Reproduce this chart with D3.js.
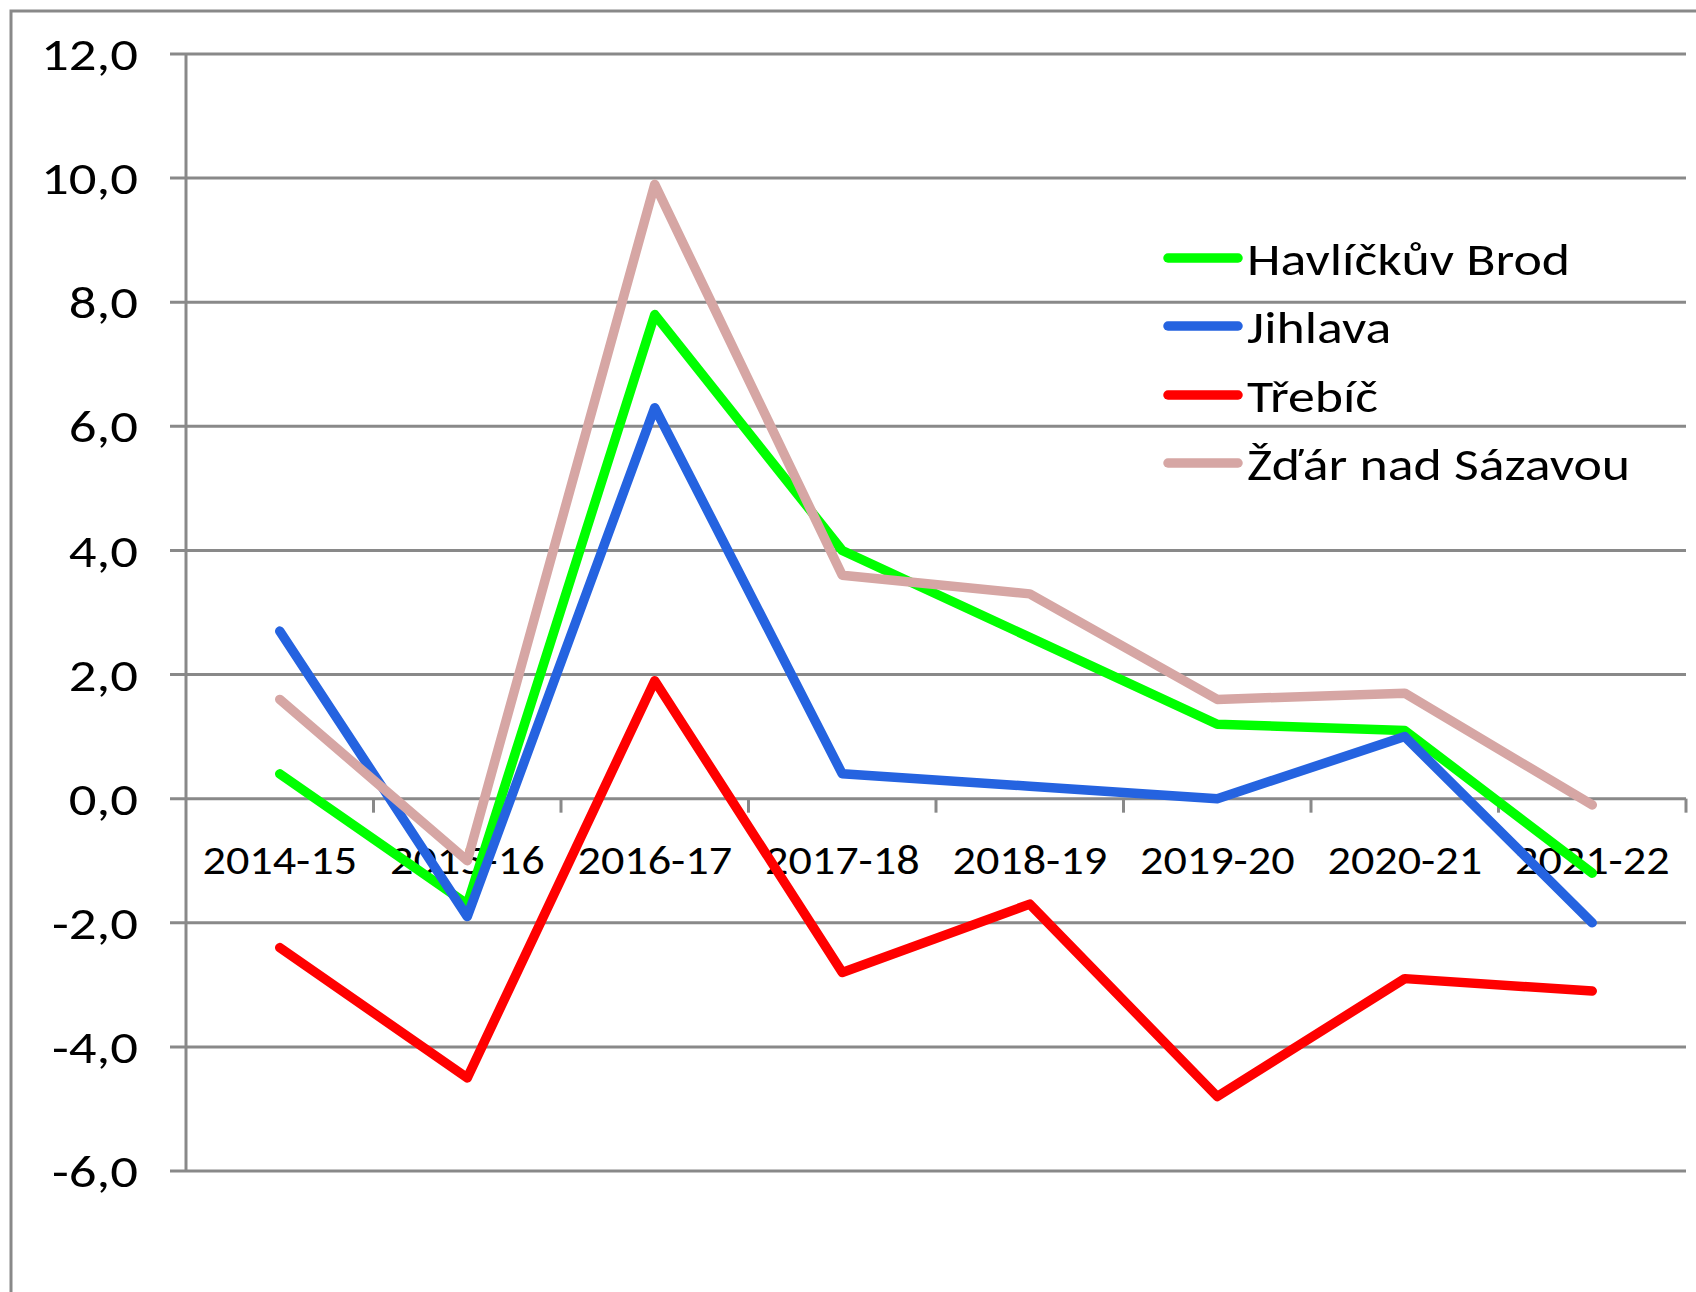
<!DOCTYPE html>
<html><head><meta charset="utf-8">
<script src="https://cdn.jsdelivr.net/npm/d3@7"></script>
<style>
html,body{margin:0;padding:0;background:#fff;}
svg{display:block;}
text{font-family:Carlito, Calibri, Lato, sans-serif;fill:#000;}
</style></head>
<body>
<svg id="chart" width="1696" height="1292"></svg>
<script>
const categories = ["2014-15","2015-16","2016-17","2017-18","2018-19","2019-20","2020-21","2021-22"];
const seriesNames = ["Havlíčkův Brod","Jihlava","Třebíč","Žďár nad Sázavou"];
const havlickuvBrod = [0.4, -1.7, 7.8, 4.0, 2.6, 1.2, 1.1, -1.2];
const jihlava       = [2.7, -1.9, 6.3, 0.4, 0.2, 0.0, 1.0, -2.0];
const trebic        = [-2.4, -4.5, 1.9, -2.8, -1.7, -4.8, -2.9, -3.1];
const zdar          = [1.6, -1.0, 9.9, 3.6, 3.3, 1.6, 1.7, -0.1];
const yTicks = [-6, -4, -2, 0, 2, 4, 6, 8, 10, 12];
const colors = ["#00ff00", "#2563e0", "#ff0000", "#d6a6a4"];

const seriesValues = [havlickuvBrod, jihlava, trebic, zdar];

(function () {
const svg = d3.select("#chart");
const pLeft = 186, pRight = 1686, pTop = 54, pBottom = 1171;
const grid = "#898989";

// outer border (extends past the window on the right and bottom)
svg.append("rect").attr("x", 11).attr("y", 11).attr("width", 1800).attr("height", 1400)
  .attr("fill", "none").attr("stroke", grid).attr("stroke-width", 3);

const x = d3.scaleBand().domain(categories).range([pLeft, pRight]).padding(0);
const y = d3.scaleLinear().domain([-6, 12]).range([pBottom, pTop]);

const loc = d3.formatLocale({decimal: ",", thousands: " ", grouping: [3], currency: ["", ""], minus: "-"});
const fmt = loc.format(".1f");

// gridlines
svg.append("g").selectAll("line").data(yTicks).join("line")
  .attr("x1", pLeft - 16).attr("x2", pRight)
  .attr("y1", d => y(d)).attr("y2", d => y(d))
  .attr("stroke", grid).attr("stroke-width", 3);

// y axis labels
const yAxis = d3.axisLeft(y).tickValues(yTicks).tickFormat(fmt).tickSize(0).tickPadding(0);
const yg = svg.append("g").attr("transform", `translate(${pLeft - 48},0)`).call(yAxis);
yg.select(".domain").remove();
yg.selectAll("text").attr("font-size", 46).attr("font-family", "Carlito, Calibri, Lato, sans-serif")
  .attr("fill", "#000").attr("x", 0).attr("dy", "0.34em").attr("transform", "scale(1.19,1)");

// y axis line
svg.append("line").attr("x1", pLeft).attr("x2", pLeft).attr("y1", pTop).attr("y2", pBottom)
  .attr("stroke", grid).attr("stroke-width", 3);

// x axis ticks at category boundaries
const bounds = categories.slice(1).map(c => x(c)).concat([pRight]);
svg.append("g").selectAll("line").data(bounds).join("line")
  .attr("x1", d => d).attr("x2", d => d)
  .attr("y1", y(0)).attr("y2", y(0) + 14)
  .attr("stroke", grid).attr("stroke-width", 3);

// x labels
svg.append("g").selectAll("g").data(categories).join("g")
  .attr("transform", d => `translate(${x(d) + x.bandwidth() / 2},${y(0) + 61})`)
  .append("text")
  .attr("dy", "0.34em")
  .attr("text-anchor", "middle")
  .attr("font-size", 42)
  .attr("transform", "scale(1.1,1)")
  .text(d => d);

// lines
const line = d3.line().x((d, i) => x(categories[i]) + x.bandwidth() / 2).y(d => y(d));
svg.append("g").selectAll("path").data(seriesValues).join("path")
  .attr("d", d => line(d))
  .attr("fill", "none")
  .attr("stroke", (d, i) => colors[i])
  .attr("stroke-width", 9.5)
  .attr("stroke-linecap", "round")
  .attr("stroke-linejoin", "round");

// legend
const lg = svg.append("g");
const legY = [258, 326, 395, 463];
seriesNames.forEach((n, i) => {
  lg.append("line").attr("x1", 1168).attr("x2", 1238).attr("y1", legY[i]).attr("y2", legY[i])
    .attr("stroke", colors[i]).attr("stroke-width", 9.5).attr("stroke-linecap", "round");
  lg.append("g").attr("transform", `translate(1247,${legY[i]})`)
    .append("text").attr("dy", "0.36em").attr("transform", "scale(1.17,1)")
    .attr("font-size", 46).text(n);
});
})();
</script>
</body></html>
